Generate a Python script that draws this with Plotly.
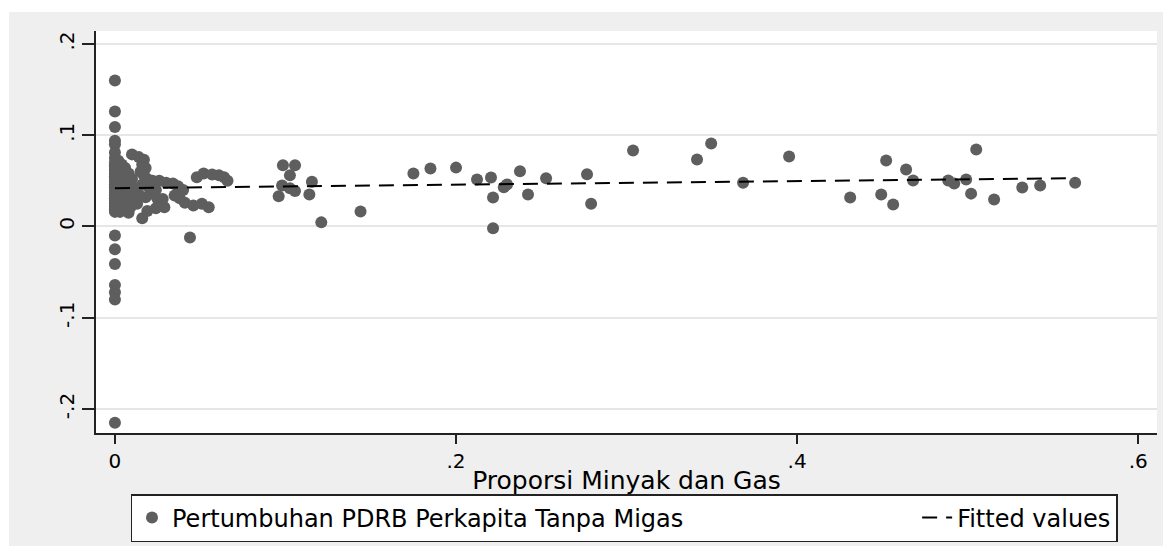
import plotly.graph_objects as go

# ---- data ----
share_x = [
    0, 0, 0, 0, 0, 0, 0, 0, 0, 0, 0, 0, 0, 0, 0, 0, 0, 0, 0, 0, 0, 0, 0, 0, 0, 0,
    0, 0, 0, 0, 0, 0, 0,
    0.002, 0.004, 0.006, 0.003, 0.008, 0.005, 0.010, 0.007, 0.004, 0.009, 0.006, 0.011,
    0.003, 0.008, 0.005, 0.010, 0.002, 0.007, 0.004, 0.009, 0.006, 0.003, 0.008, 0.005, 0.001,
    0.010, 0.014, 0.017, 0.016, 0.018, 0.015, 0.017, 0.019, 0.022, 0.026, 0.030, 0.034,
    0.037, 0.040, 0.016, 0.020, 0.024, 0.021, 0.018, 0.025, 0.028, 0.035, 0.038, 0.041,
    0.046, 0.051, 0.055, 0.029, 0.024, 0.019, 0.016, 0.013, 0.014, 0.012,
    0.048, 0.052, 0.057, 0.061, 0.064, 0.066, 0.044,
    0.0985, 0.1056, 0.1026, 0.098, 0.1026, 0.1056, 0.096, 0.114, 0.1155, 0.121, 0.144,
    0.175, 0.185, 0.200, 0.2123, 0.2205, 0.2299, 0.228, 0.2217, 0.2375, 0.2422, 0.2528,
    0.2217, 0.2768, 0.2792, 0.3038, 0.3413, 0.3496, 0.3683, 0.3953, 0.4311, 0.4522,
    0.4493, 0.4563, 0.4639, 0.468, 0.4886, 0.4921, 0.4991, 0.502, 0.505, 0.5155,
    0.532, 0.5425, 0.563,
]
growth_y = [
    0.160, 0.126, 0.109, 0.094, 0.090, 0.081, 0.075, 0.070, 0.067, 0.064, 0.061, 0.058,
    0.055, 0.052, 0.049, 0.046, 0.043, 0.040, 0.037, 0.034, 0.031, 0.028, 0.025, 0.022,
    0.019, 0.016,
    -0.010, -0.025, -0.041, -0.064, -0.072, -0.080, -0.215,
    0.072, 0.068, 0.064, 0.060, 0.058, 0.055, 0.052, 0.050, 0.047, 0.045, 0.042, 0.040,
    0.038, 0.036, 0.033, 0.030, 0.028, 0.026, 0.023, 0.021, 0.018, 0.016, 0.015, 0.035, 0.044,
    0.079, 0.076, 0.073, 0.068, 0.064, 0.060, 0.056, 0.052, 0.050, 0.050, 0.048, 0.047,
    0.044, 0.040, 0.046, 0.043, 0.040, 0.036, 0.032, 0.030, 0.030, 0.034, 0.031, 0.026,
    0.023, 0.025, 0.021, 0.021, 0.020, 0.017, 0.009, 0.025, 0.035, 0.042,
    0.054, 0.058, 0.057, 0.056, 0.054, 0.050, -0.012,
    0.067, 0.067, 0.056, 0.045, 0.042, 0.039, 0.033, 0.035, 0.049, 0.0045, 0.0165,
    0.058, 0.0635, 0.0645, 0.0515, 0.0537, 0.046, 0.043, 0.0318, 0.0605, 0.035, 0.0528,
    -0.002, 0.0572, 0.025, 0.0832, 0.0733, 0.091, 0.048, 0.0767, 0.0318, 0.0723,
    0.035, 0.024, 0.0624, 0.0504, 0.0504, 0.0471, 0.0515, 0.036, 0.0843, 0.0296,
    0.0427, 0.0449, 0.048,
]
fit_x = [0.0, 0.563]
fit_y = [0.042, 0.0529]

y_ticks = [-0.2, -0.1, 0.0, 0.1, 0.2]
y_tick_text = ["-.2", "-.1", "0", ".1", ".2"]
x_ticks = [0.0, 0.2, 0.4, 0.6]
x_tick_text = ["0", ".2", ".4", ".6"]

series_name = "Pertumbuhan PDRB Perkapita Tanpa Migas"
fit_name = "Fitted values"
x_title = "Proporsi Minyak dan Gas"

FONT = "DejaVu Sans"
AXIS = "#222222"

fig = go.Figure()
fig.add_trace(go.Scatter(
    x=share_x, y=growth_y, mode="markers",
    name=series_name + "\u00a0" * 30,
    marker=dict(color="#5e5e5e", size=12, line=dict(width=0)),
))
fig.add_trace(go.Scatter(
    x=fit_x, y=fit_y, mode="lines", name=fit_name,
    line=dict(color="black", width=2, dash="15px,9px"),
))

# page body has an 8px margin: lay the figure out in screen pixels minus 8
OFF = 8
SW, SH = 1171, 546
W, H = SW - OFF, SH - OFF
L, R, T, B = 96 - OFF, 14, 31 - OFF, 113
pw, ph = W - L - R, H - T - B

def px_to_paper_x(px):
    return (px - OFF - L) / pw

def px_to_paper_y(py):
    return (H - B - (py - OFF)) / ph

shapes = [
    dict(type="rect", xref="paper", yref="paper", layer="below",
         x0=px_to_paper_x(9), x1=px_to_paper_x(SW + 5),
         y0=px_to_paper_y(SH + 5), y1=px_to_paper_y(12),
         fillcolor="#efefef", line=dict(width=0)),
    dict(type="rect", xref="paper", yref="paper", layer="below",
         x0=0, x1=1, y0=0, y1=1, fillcolor="white", line=dict(width=0)),
]

fig.update_layout(
    template="none",
    width=W, height=H,
    margin=dict(l=L, r=R, t=T, b=B, autoexpand=False),
    paper_bgcolor="white", plot_bgcolor="white",
    font=dict(family=FONT, color="black", size=20),
    shapes=shapes,
    showlegend=True,
    legend=dict(
        orientation="h", x=px_to_paper_x(624), xanchor="center",
        y=px_to_paper_y(494), yanchor="top",
        bgcolor="white", bordercolor=AXIS, borderwidth=1.5,
        font=dict(family=FONT, size=24, color="black"),
        itemclick=False, tracegroupgap=0,
    ),
    xaxis=dict(
        range=[-0.0111, 0.611], automargin=False,
        tickvals=x_ticks, ticktext=x_tick_text,
        ticks="outside", ticklen=9, tickwidth=1.5, tickcolor=AXIS,
        showline=True, linecolor=AXIS, linewidth=1.5,
        showgrid=False, zeroline=False,
        tickfont=dict(family=FONT, size=20),
        title=dict(text=x_title, font=dict(family=FONT, size=25), standoff=0),
    ),
    yaxis=dict(
        range=[-0.2263, 0.2142], automargin=False,
        tickvals=y_ticks, ticktext=y_tick_text,
        ticks="outside", ticklen=12, tickwidth=1.5, tickcolor=AXIS,
        tickangle=-90,
        showline=True, linecolor=AXIS, linewidth=1.5,
        showgrid=True, gridcolor="#e6e6e6", gridwidth=1.5,
        zeroline=False,
        tickfont=dict(family=FONT, size=20),
    ),
)

fig.write_html("out.html")
